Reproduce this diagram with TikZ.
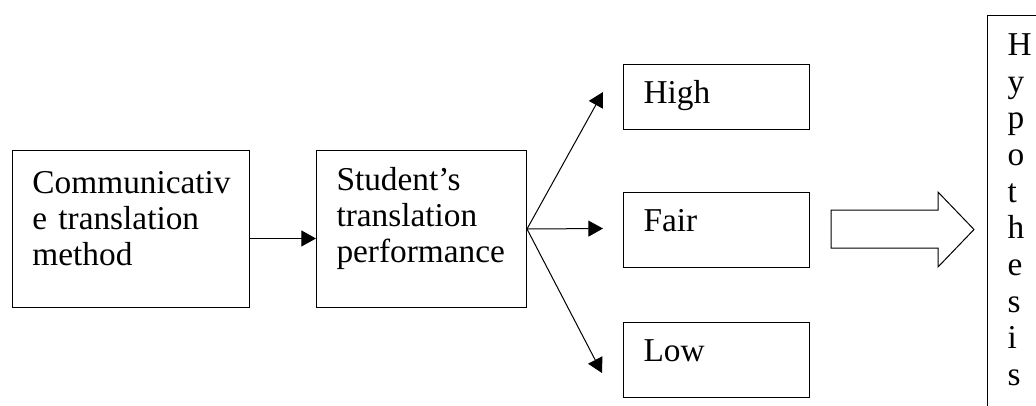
\documentclass[tikz,border=0pt]{standalone}
\usepackage{fontspec}
\setmainfont{Liberation Serif}
\usetikzlibrary{arrows.meta}
\tikzset{
	box/.style={draw, line width=0.75pt, anchor=north west, inner xsep=15pt, inner ysep=0pt,
		align=left, font=\fontsize{25}{27}\selectfont},
	conn/.style={line width=0.75pt, -{Triangle[length=11pt,width=12pt]}}
}

\begin{document}
\begin{tikzpicture}[x=0.75pt,y=-0.75pt]
			%%%%% START %%%%%
			
			\clip (0,0) rectangle (1036,405);
			
			\node[box, text width=147.75pt, text height=32.25pt, text depth=85.5pt] (method) at (12,150) {Communicativ\\e translation\\method};
			\node[box, text width=127.5pt, text height=30pt, text depth=87.75pt] (perf) at (316,150) {Student's\\translation\\performance};
			
			\node[box, text width=109.5pt, text height=29.25pt, text depth=19.5pt] (high) at (623,64) {High};
			\node[box, text width=109.5pt, text height=29.25pt, text depth=27pt] (fair) at (623,192) {Fair};
			\node[box, text width=109.5pt, text height=29.25pt, text depth=27pt] (low) at (623,322) {Low};
			
			\node[box, font=\fontsize{25}{27.5}\selectfont, text width=45pt, text height=30pt, text depth=300pt] (hyp) at (987,15) {H\\y\\p\\o\\t\\h\\e\\s\\i\\s};
			
			\coordinate (highTip) at (603,92);
			\coordinate (fairTip) at (603,228.5);
			\coordinate (lowTip) at (602,373);
			
			\draw[conn] ([yshift=-7.1pt]method.east) -- ([yshift=-7.1pt]perf.west);
			\draw[conn] (perf.east) -- (highTip);
			\draw[conn] (perf.east) -- (fairTip);
			\draw[conn] (perf.east) -- (lowTip);
			
			\draw[line width=0.75pt] (831,210) -- (938,210) -- (938,192) -- (974,229.5) -- (938,267) -- (938,248) -- (831,248) -- cycle;
			
			%%%%% END %%%%%
\end{tikzpicture}
\end{document}
